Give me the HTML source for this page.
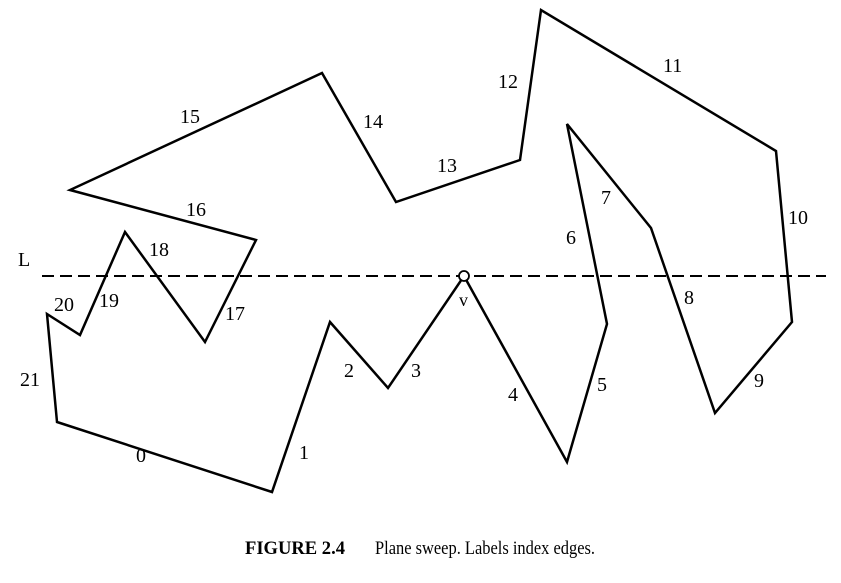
<!DOCTYPE html>
<html><head><style>body{margin:0;background:#fff}svg{display:block}</style></head><body>
<svg width="841" height="583" viewBox="0 0 841 583" xmlns="http://www.w3.org/2000/svg">
<line x1="42" y1="276" x2="826" y2="276" stroke="#000" stroke-width="2" stroke-dasharray="12,6"/>
<polygon points="57,422 272,492 330,322 388,388 464,276 567,462 607,324 567,124 651,228 715,413 792,322 776,151 541,10 520,160 396,202 322,73 70,190 256,240 205,342 125,232 80,335 47,314" fill="none" stroke="#000" stroke-width="2.5" stroke-linejoin="miter"/>
<circle cx="464" cy="276" r="5" fill="#fff" stroke="#000" stroke-width="1.8"/>
<g font-family="Liberation Serif, serif" font-size="20" fill="#000">
<text x="18" y="266">L</text>
<text x="459" y="306" font-size="18">v</text>
<text x="136" y="462">0</text>
<text x="299" y="459">1</text>
<text x="344" y="377">2</text>
<text x="411" y="377">3</text>
<text x="508" y="401">4</text>
<text x="597" y="391">5</text>
<text x="566" y="244">6</text>
<text x="601" y="204">7</text>
<text x="684" y="304">8</text>
<text x="754" y="387">9</text>
<text x="788" y="224">10</text>
<text x="663" y="72">11</text>
<text x="498" y="88">12</text>
<text x="437" y="172">13</text>
<text x="363" y="128">14</text>
<text x="180" y="123">15</text>
<text x="186" y="216">16</text>
<text x="225" y="320">17</text>
<text x="149" y="256">18</text>
<text x="99" y="307">19</text>
<text x="54" y="311">20</text>
<text x="20" y="386">21</text>
</g>
<g font-family="Liberation Serif, serif" font-size="19">
<text x="245" y="554" font-weight="bold" textLength="100" lengthAdjust="spacingAndGlyphs">FIGURE 2.4</text>
<text x="375" y="554" textLength="220" lengthAdjust="spacingAndGlyphs">Plane sweep. Labels index edges.</text>
</g>
</svg>
</body></html>
